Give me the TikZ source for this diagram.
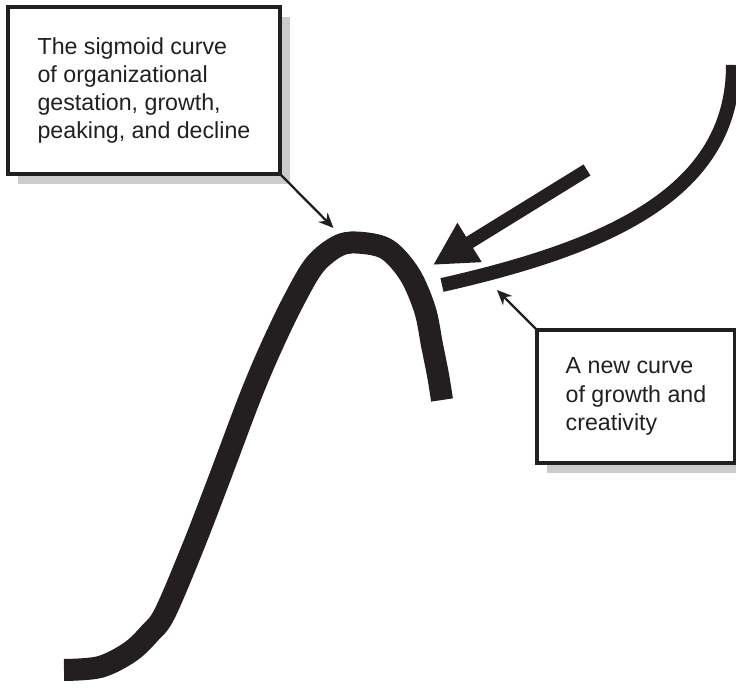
\documentclass[tikz,border=0pt]{standalone}
\usepackage{fontspec}
\setmainfont{Liberation Sans}
\usetikzlibrary{arrows.meta,shadows}
\definecolor{ink}{HTML}{231F20}

\begin{document}
\begin{tikzpicture}[font=\fontsize{13.2}{16.1}\selectfont,>=Stealth,x=1cm,y=1cm]
    \tikzset{
        note/.style={
            draw=ink,line width=2pt,fill=white,text=ink,
            align=left,inner sep=0pt,outer sep=0pt,
            drop shadow={shadow xshift=0.2cm,shadow yshift=-0.2cm,
                fill=black!20,opacity=1}
        },
        pointer/.style={draw=ink,line width=1.3pt,
            -{Stealth[length=0.3cm,width=0.26cm]}},
        curve/.style={draw=ink,line cap=butt}
    }
    \useasboundingbox (0,0) rectangle (14.72,13.84);

    \node[note,minimum width=5.44cm,minimum height=3.34cm]
        (sigmoid-note) at (2.88,12.03)
        {The sigmoid curve\\of organizational\\gestation, growth,\\
         peaking, and decline};
    \node[note,minimum width=3.96cm,minimum height=2.66cm]
        (new-note) at (12.72,5.91)
        {A new curve\\of growth and\\creativity};

    \coordinate (peak-tip) at (6.67,9.28);
    \coordinate (new-tip) at (9.94,8.04);
    \coordinate (push-start) at (11.74,10.44);
    \coordinate (push-tip) at (8.66,8.54);

    \draw[curve,line width=0.44cm]
        plot[smooth,tension=0.55] coordinates {
            (1.28,0.44) (2.00,0.50) (2.60,0.80) (3.00,1.18) (3.30,1.58)
            (3.86,2.90) (4.40,4.30) (4.98,5.84) (5.40,6.84) (5.86,7.80)
            (6.30,8.55) (6.80,8.94) (7.26,8.98) (7.76,8.84) (8.20,8.34)
            (8.50,7.64) (8.64,6.94) (8.76,6.34) (8.84,5.84)};
    \draw[curve,line width=0.28cm]
        (14.66,12.54) .. controls (14.66,10.00) and (12.20,8.90) .. (8.84,8.14);
    \draw[curve,line width=0.26cm,-{Triangle[length=0.86cm,width=0.86cm]}]
        (push-start) -- (push-tip);

    \draw[pointer] (sigmoid-note.south east) -- (peak-tip);
    \draw[pointer] (new-note.north west) -- (new-tip);
\end{tikzpicture}
\end{document}
